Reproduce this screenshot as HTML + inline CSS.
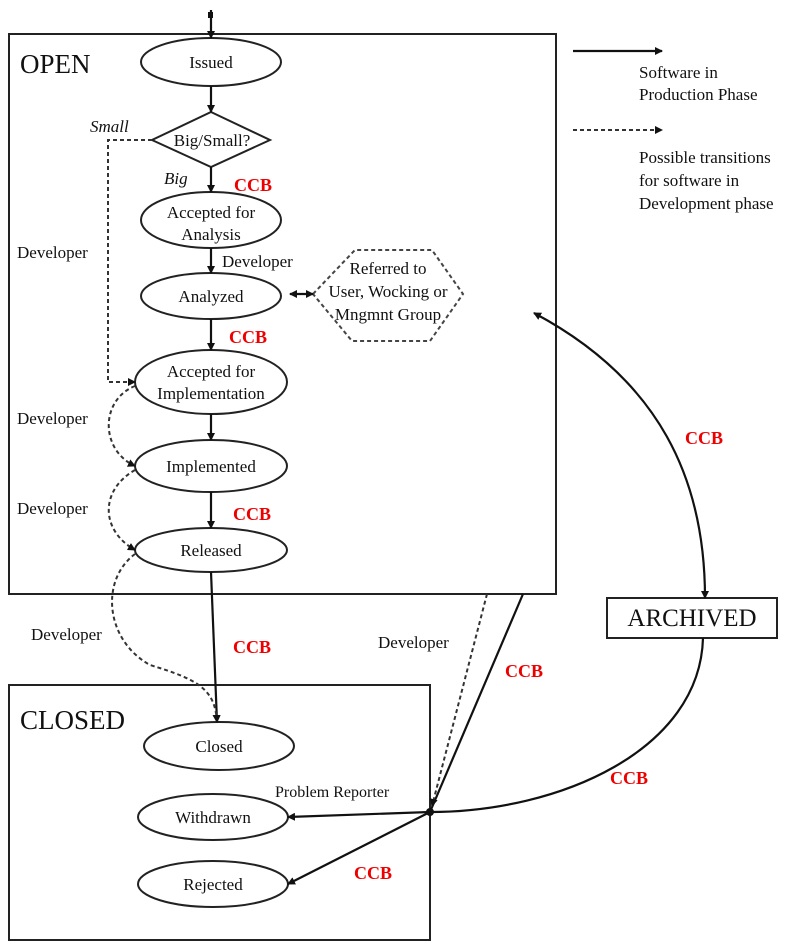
<!DOCTYPE html>
<html><head><meta charset="utf-8"><style>
html,body{margin:0;padding:0;background:#fff;}
svg{display:block;}
text{font-family:"Liberation Serif",serif;fill:#111;}
.r{fill:#e00;font-weight:bold;font-size:18px;}
</style></head><body>
<svg width="800" height="948" viewBox="0 0 800 948" xmlns="http://www.w3.org/2000/svg">
<defs>
<marker id="a" markerWidth="8" markerHeight="8" refX="7" refY="4" orient="auto" markerUnits="userSpaceOnUse"><path d="M0,0 L8,4 L0,8 z" fill="#111"/></marker>
<marker id="s" markerWidth="8" markerHeight="8" refX="1" refY="4" orient="auto" markerUnits="userSpaceOnUse"><path d="M8,0 L0,4 L8,8 z" fill="#111"/></marker>
</defs>
<g fill="none" stroke="#222" stroke-width="2">
<rect x="9" y="34" width="547" height="560"/>
<rect x="9" y="685" width="421" height="255"/>
<rect x="607" y="598" width="170" height="40"/>
<ellipse cx="211" cy="62" rx="70" ry="24"/>
<polygon points="211,112 270,140 211,167 152,140"/>
<ellipse cx="211" cy="220" rx="70" ry="28"/>
<ellipse cx="211" cy="296" rx="70" ry="23"/>
<ellipse cx="211" cy="382" rx="76" ry="32"/>
<ellipse cx="211" cy="466" rx="76" ry="26"/>
<ellipse cx="211" cy="550" rx="76" ry="22"/>
<ellipse cx="219" cy="746" rx="75" ry="24"/>
<ellipse cx="213" cy="817" rx="75" ry="23"/>
<ellipse cx="213" cy="884" rx="75" ry="23"/>
</g>
<polygon points="313,294 355,250 432,250 463,294 430,341 352,341" fill="none" stroke="#444" stroke-width="2" stroke-dasharray="4,3"/>
<g fill="none" stroke="#111" stroke-width="2.2" marker-end="url(#a)">
<line x1="211" y1="10" x2="211" y2="38"/>
<line x1="211" y1="86" x2="211" y2="112"/>
<line x1="211" y1="167" x2="211" y2="192"/>
<line x1="211" y1="248" x2="211" y2="273"/>
<line x1="211" y1="319" x2="211" y2="350"/>
<line x1="211" y1="414" x2="211" y2="440"/>
<line x1="211" y1="492" x2="211" y2="528"/>
<line x1="211" y1="572" x2="217" y2="722"/>
<line x1="290" y1="294" x2="313" y2="294" marker-start="url(#s)"/>
<line x1="573" y1="51" x2="662" y2="51"/>
<path d="M534,313 C660,380 705,480 705,598" marker-start="url(#s)"/>
<path d="M703,638 C700,750 560,812 430,812" marker-end="none"/>
<line x1="523" y1="594" x2="430" y2="812" marker-end="none"/>
<line x1="430" y1="812" x2="288" y2="817"/>
<line x1="430" y1="812" x2="288" y2="884"/>
</g>
<circle cx="430" cy="812" r="4" fill="#111"/>
<rect x="208" y="12" width="5" height="6" fill="#111"/>
<g fill="none" stroke="#333" stroke-width="2" stroke-dasharray="4,3" marker-end="url(#a)">
<path d="M152,140 L108,140 L108,382 L135,382"/>
<path d="M135,386 C100,400 100,450 135,466"/>
<path d="M135,470 C100,490 100,530 135,550"/>
<path d="M135,554 C100,580 105,640 150,665 C200,680 215,690 217,722"/>
<line x1="487" y1="594" x2="432" y2="806"/>
<line x1="573" y1="130" x2="662" y2="130"/>
</g>
<g font-size="17">
<text x="20" y="73" font-size="27">OPEN</text>
<text x="20" y="729" font-size="27">CLOSED</text>
<text x="692" y="626" font-size="25" text-anchor="middle">ARCHIVED</text>
<text x="211" y="68" text-anchor="middle">Issued</text>
<text x="212" y="146" text-anchor="middle">Big/Small?</text>
<text x="211" y="218" text-anchor="middle">Accepted for</text>
<text x="211" y="240" text-anchor="middle">Analysis</text>
<text x="211" y="302" text-anchor="middle">Analyzed</text>
<text x="211" y="377" text-anchor="middle">Accepted for</text>
<text x="211" y="399" text-anchor="middle">Implementation</text>
<text x="211" y="472" text-anchor="middle">Implemented</text>
<text x="211" y="556" text-anchor="middle">Released</text>
<text x="219" y="752" text-anchor="middle">Closed</text>
<text x="213" y="823" text-anchor="middle">Withdrawn</text>
<text x="213" y="890" text-anchor="middle">Rejected</text>
<text x="388" y="274" text-anchor="middle">Referred to</text>
<text x="388" y="297" text-anchor="middle">User, Wocking or</text>
<text x="388" y="320" text-anchor="middle">Mngmnt Group</text>
<text x="90" y="132" font-style="italic">Small</text>
<text x="164" y="184" font-style="italic">Big</text>
<text x="17" y="258">Developer</text>
<text x="222" y="267">Developer</text>
<text x="17" y="424">Developer</text>
<text x="17" y="514">Developer</text>
<text x="31" y="640">Developer</text>
<text x="378" y="648">Developer</text>
<text x="275" y="797" font-size="16">Problem Reporter</text>
<text x="639" y="78">Software in</text>
<text x="639" y="100">Production Phase</text>
<text x="639" y="163">Possible transitions</text>
<text x="639" y="186">for software in</text>
<text x="639" y="209">Development phase</text>
</g>
<text class="r" x="234" y="191">CCB</text>
<text class="r" x="229" y="343">CCB</text>
<text class="r" x="233" y="520">CCB</text>
<text class="r" x="233" y="653">CCB</text>
<text class="r" x="505" y="677">CCB</text>
<text class="r" x="685" y="444">CCB</text>
<text class="r" x="610" y="784">CCB</text>
<text class="r" x="354" y="879">CCB</text>
</svg>
</body></html>
